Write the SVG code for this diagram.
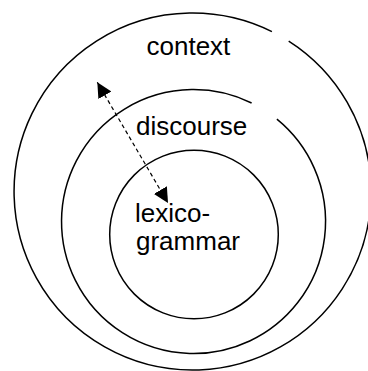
<svg xmlns="http://www.w3.org/2000/svg" width="368" height="371" viewBox="0 0 368 371">
<style>
.ring{fill:none;stroke:#000;stroke-width:1.5}
.lbl{font-family:"Liberation Sans",Arial,sans-serif;font-size:26px;fill:#000}
.conn{stroke:#000;stroke-width:1.2;stroke-dasharray:4 3;fill:none}
</style>
<defs>
<marker id="ah" viewBox="0 0 15 15" refX="15" refY="7.5" markerWidth="15" markerHeight="15" markerUnits="userSpaceOnUse" orient="auto-start-reverse">
<path d="M0,0 L15,7.5 L0,15 z" fill="#000"/>
</marker>
</defs>
<rect width="368" height="371" fill="#fff"/>
<g id="context">
<path class="ring" d="M288.7,41.1 A178.5,178.5 0 1 1 271.9,31.6"/>
<text class="lbl" x="146.5" y="55">context</text>
</g>
<g id="discourse">
<path class="ring" d="M276.9,119.2 A132,132 0 1 1 251.6,103.0"/>
<text class="lbl" x="136" y="135">discourse</text>
</g>
<g id="lexicogrammar">
<circle class="ring" cx="194" cy="234.5" r="84.3"/>
<text class="lbl" x="135" y="222">lexico-</text>
<text class="lbl" x="136" y="250">grammar</text>
</g>
<g id="connectors">
<line class="conn" x1="97.3" y1="82.3" x2="168" y2="203" marker-start="url(#ah)" marker-end="url(#ah)"/>
</g>
</svg>
